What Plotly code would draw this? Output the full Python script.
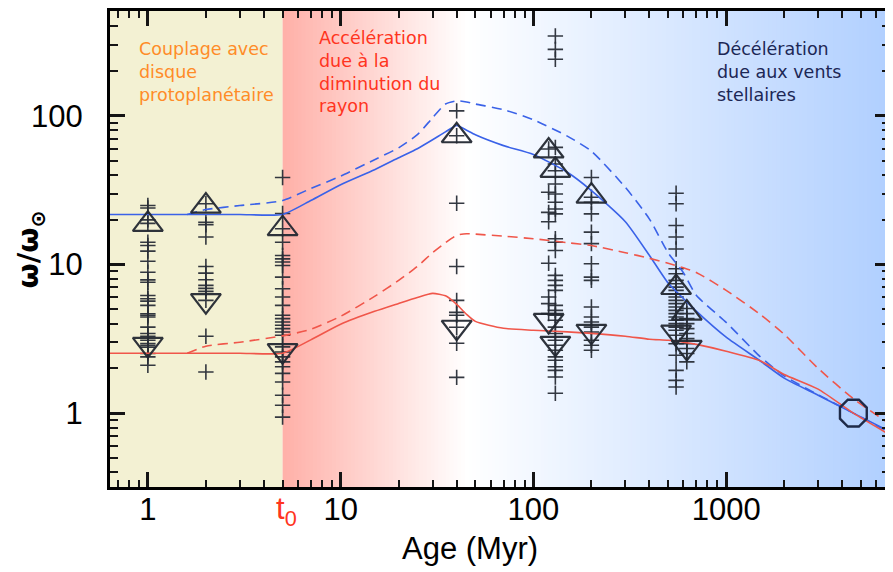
import numpy as np
import plotly.graph_objects as go

# ---------------- data ----------------
# Model tracks: age (Myr) and omega / omega_sun
model_age = [0.6, 1, 2, 3, 5, 7, 10, 15, 20, 25, 30, 35, 40, 45, 50, 70, 100, 150, 200,
             300, 400, 500, 600, 700, 1000, 1500, 2000, 3000, 4570, 7000]
blue_solid = [21.7, 21.7, 21.7, 21.7, 21.7, 26.9, 34.4, 43.4, 52.2, 60.1, 69, 78, 86, 80, 74.5,
              63, 55, 41.7, 31.4, 19.4, 11.5, 7.5, 5.9, 4.85, 3.24, 2.25, 1.72, 1.32, 1.0, 0.757]
red_solid = [2.53, 2.53, 2.53, 2.53, 2.53, 3.11, 3.96, 4.84, 5.47, 6.0, 6.39, 6.15, 5.39, 4.62,
             4.14, 3.72, 3.61, 3.52, 3.44, 3.29, 3.14, 3.09, 3.0, 2.9, 2.61, 2.25, 1.82, 1.45,
             1.0, 0.72]

dashed_age = [1.6, 2, 3, 5, 7, 10, 15, 20, 25, 30, 35, 40, 45, 50, 70, 100, 150, 200, 300,
              400, 500, 600, 700, 1000, 1500, 2000, 3000, 4570, 7000]
blue_dashed = [21.7, 23.4, 24.9, 26.9, 32.4, 39.3, 50.7, 60.9, 74.6, 97, 120, 126, 124, 120,
               110, 94, 73, 57.8, 33, 20.2, 12.0, 8.8, 6.2, 4.08, 2.4, 1.78, 1.33, 1.0, 0.745]
red_dashed = [2.53, 2.82, 3.0, 3.31, 3.66, 4.48, 6.1, 7.81, 9.7, 12.0, 14.0, 15.7, 16.1, 16.0,
              15.5, 14.9, 14.0, 13.4, 12.0, 11.0, 10.2, 9.5, 8.84, 6.7, 4.62, 3.39, 2.0, 1.25,
              0.85]

# Observed rotation rates in young clusters (age in Myr -> omega values)
cluster_ages = [1, 2, 5, 40, 120, 130, 200, 550, 625]
omega_1 = [24.9, 24.0, 19.95, 18.9, 14.1, 13.4, 12.3, 10.5, 8.87, 7.88, 7.6, 6.19, 5.88, 5.67,
           5.31, 4.66, 4.55, 4.43, 3.79, 3.43, 3.29, 3.09, 2.94, 2.86, 2.78, 2.52, 2.39, 2.10]
omega_2 = [25.6, 19.2, 18.5, 15.3, 9.7, 8.74, 7.89, 7.23, 6.9, 6.59, 5.73, 3.29, 1.89]
omega_5 = [38.5, 22.0, 17.4, 14.1, 11.5, 10.9, 10.4, 9.85, 8.22, 6.87, 6.04, 5.31, 4.55, 4.32,
           4.1, 3.9, 3.7, 3.51, 3.34, 2.79, 2.58, 2.39, 2.21, 2.05, 1.85, 1.62, 1.32, 1.13, 0.94]
omega_40 = [108, 73.4, 25.8, 9.7, 5.73, 4.76, 4.55, 3.78, 2.95, 1.74]
omega_120 = [59.8, 30.6, 22.4, 19.4, 10.2, 6.04, 5.45, 4.67]
omega_130 = [344, 280, 240, 61.3, 47.4, 42.7, 34.8, 29.8, 26.2, 23.6, 21.9, 14.9, 14.1, 12.4,
             8.44, 7.81, 7.23, 6.69, 5.31, 4.91, 4.55, 4.21, 3.79, 3.43, 3.09, 2.86, 2.65,
             2.39, 2.27, 2.05, 1.94, 1.75, 1.36]
omega_200 = [38.5, 28.3, 26.2, 21.9, 16.5, 13.8, 10.1, 8.22, 7.81, 5.17, 4.43, 4.1, 3.79, 3.51,
             3.09, 2.86, 2.65]
omega_550 = [30.1, 25.6, 18.3, 15.3, 12.7, 9.36, 8.66, 7.81, 7.42, 7.04, 6.69, 6.36, 6.04, 5.73,
             5.45, 5.17, 4.91, 4.67, 4.43, 4.21, 4.0, 3.79, 3.61, 3.34, 2.93, 2.45, 1.94, 1.66,
             1.50]
omega_625 = [5.05, 4.67, 4.32, 4.0, 3.7, 3.43, 3.17, 2.93, 2.72, 2.52, 2.21]
cluster_omegas = [omega_1, omega_2, omega_5, omega_40, omega_120, omega_130, omega_200,
                  omega_550, omega_625]

# 90th (upper triangles) and 25th (lower triangles) percentiles
p90_omega = [18.6, 24.7, 17.4, 73.4, 58, 43, 28.8, 7.0, 4.71]
p25_omega = [2.9, 5.71, 2.63, 3.78, 4.2, 2.95, 3.55, 3.51, 2.77]

sun_age = [4570]
sun_omega = [1.0]

x_tick_vals = [1, 10, 100, 1000]
x_tick_text = ["1", "10", "100", "1000"]
y_tick_vals = [1, 10, 100]
y_tick_text = ["1", "10", "100"]
T0 = 5

# ---------------- layout constants ----------------
XLO, XHI = -0.1964, 3.850
YLO, YHI = -0.497, 2.705


def px_x(age):
    return (np.log10(age) - XLO) / (XHI - XLO)


fig = go.Figure()

plus_x, plus_y = [], []
for a, vals in zip(cluster_ages, cluster_omegas):
    plus_x += [a] * len(vals)
    plus_y += vals

fig.add_trace(go.Scatter(x=plus_x, y=plus_y, mode="markers",
                         marker=dict(symbol="cross-thin", size=11,
                                     line=dict(width=1.6, color="rgba(40,45,55,0.95)")),
                         showlegend=False, hoverinfo="x+y"))

line_blue = "#3a62e8"
line_red = "#f0564a"
sm = 0.6
fig.add_trace(go.Scatter(x=model_age, y=blue_solid, mode="lines",
                         line=dict(color=line_blue, width=1.6, shape="spline", smoothing=sm),
                         showlegend=False))
fig.add_trace(go.Scatter(x=dashed_age, y=blue_dashed, mode="lines",
                         line=dict(color=line_blue, width=1.6, dash="10px,6px",
                                   shape="spline", smoothing=sm), showlegend=False))
fig.add_trace(go.Scatter(x=model_age, y=red_solid, mode="lines",
                         line=dict(color=line_red, width=1.6, shape="spline", smoothing=sm),
                         showlegend=False))
fig.add_trace(go.Scatter(x=dashed_age, y=red_dashed, mode="lines",
                         line=dict(color=line_red, width=1.6, dash="10px,6px",
                                   shape="spline", smoothing=sm), showlegend=False))

tri_col = "rgba(35,40,50,0.95)"
fig.add_trace(go.Scatter(x=cluster_ages, y=p90_omega, mode="markers",
                         marker=dict(symbol="triangle-up-open", size=26,
                                     line=dict(width=2.2, color=tri_col), color=tri_col),
                         showlegend=False))
fig.add_trace(go.Scatter(x=cluster_ages, y=p25_omega, mode="markers",
                         marker=dict(symbol="triangle-down-open", size=26,
                                     line=dict(width=2.2, color=tri_col), color=tri_col),
                         showlegend=False))
fig.add_trace(go.Scatter(x=sun_age, y=sun_omega, mode="markers",
                         marker=dict(symbol="octagon-open", size=29,
                                     line=dict(width=2.4, color="#1e2a48"), color="#1e2a48"),
                         showlegend=False))

# ---------------- background ----------------
shapes = [dict(type="rect", xref="paper", yref="paper", x0=0, x1=px_x(T0), y0=0, y1=1,
               fillcolor="#f3f1d3", line=dict(width=0), layer="below")]
stop_log = [np.log10(T0), np.log10(45), XHI]
stop_rgb = np.array([(255, 176, 168), (255, 255, 255), (176, 207, 255)], dtype=float)
N = 160
lg = np.linspace(np.log10(T0), XHI, N + 1)
for i in range(N):
    mid = 0.5 * (lg[i] + lg[i + 1])
    c = [int(round(np.interp(mid, stop_log, stop_rgb[:, k]))) for k in range(3)]
    shapes.append(dict(type="rect", xref="paper", yref="paper",
                       x0=(lg[i] - XLO) / (XHI - XLO),
                       x1=min(1.0, (lg[i + 1] - XLO) / (XHI - XLO) + 0.0015),
                       y0=0, y1=1, fillcolor=f"rgb({c[0]},{c[1]},{c[2]})",
                       line=dict(width=0), layer="below"))

txt_font = "DejaVu Sans, Verdana, sans-serif"
annotations = [
    dict(text="Couplage avec<br>disque<br>protoplanétaire", xref="paper", yref="paper",
         x=0.0345, y=0.945, xanchor="left", yanchor="top", align="left", showarrow=False,
         font=dict(family=txt_font, size=17.5, color="#ff8c28")),
    dict(text="Accélération<br>due à la<br>diminution du<br>rayon", xref="paper", yref="paper",
         x=0.2656, y=0.968, xanchor="left", yanchor="top", align="left", showarrow=False,
         font=dict(family=txt_font, size=17.5, color="#ff3420")),
    dict(text="Décélération<br>due aux vents<br>stellaires", xref="paper", yref="paper",
         x=0.775, y=0.945, xanchor="left", yanchor="top", align="left", showarrow=False,
         font=dict(family=txt_font, size=17.5, color="#1c2755")),
    dict(text="t<sub>0</sub>", xref="paper", yref="paper", x=px_x(T0), y=-0.05,
         xanchor="center", yanchor="middle", xshift=4, showarrow=False,
         font=dict(family="Liberation Sans, Arial", size=31, color="#ff3420")),
    dict(text="Age (Myr)", xref="paper", yref="paper", x=0.461, y=-0.13,
         xanchor="center", yanchor="middle", showarrow=False,
         font=dict(family="Liberation Sans, Arial", size=31, color="black")),
    dict(text="<b>ω/ω<sub>⊙</sub></b>", xref="paper", yref="paper", x=-0.102, y=0.5,
         xanchor="center", yanchor="middle", textangle=-90, showarrow=False,
         font=dict(family="DejaVu Sans", size=29, color="black")),
]

minor_x = [m * 10 ** e for e in range(-1, 4) for m in range(2, 10)
           if XLO <= np.log10(m * 10 ** e) <= XHI]
minor_y = [m * 10 ** e for e in range(-1, 3) for m in range(2, 10)
           if YLO <= np.log10(m * 10 ** e) <= YHI]

tick_font = dict(family="Liberation Sans, Arial", size=31, color="black")
common = dict(type="log", ticks="inside", ticklen=15, tickwidth=2.5, tickcolor="#151515",
              showline=True, linewidth=3, linecolor="black", mirror="ticks",
              showgrid=False, zeroline=False, tickfont=tick_font, tickmode="array")

fig.update_xaxes(range=[XLO, XHI], tickvals=x_tick_vals, ticktext=x_tick_text,
                 ticklabelstandoff=-7,
                 minor=dict(tickmode="array", tickvals=minor_x, ticks="inside", ticklen=7,
                            tickwidth=2, tickcolor="#151515", showgrid=False), **common)
fig.update_yaxes(range=[YLO, YHI], tickvals=y_tick_vals, ticktext=y_tick_text,
                 ticklabelstandoff=18,
                 minor=dict(tickmode="array", tickvals=minor_y, ticks="inside", ticklen=8,
                            tickwidth=2, tickcolor="#151515", showgrid=False), **common)

# page body has an 8px margin: figure is 885x564 so that it ends at the window edge
fig.update_layout(width=885, height=564, margin=dict(l=102, r=0, t=2, b=85),
                  paper_bgcolor="white", plot_bgcolor="white",
                  shapes=shapes, annotations=annotations, showlegend=False)

fig.write_html("out.html")
